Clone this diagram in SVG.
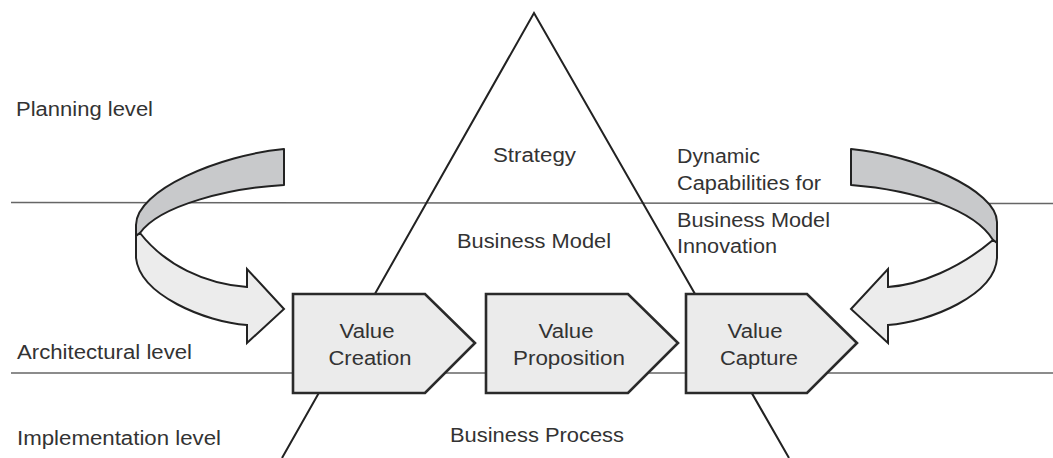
<svg xmlns="http://www.w3.org/2000/svg" width="1053" height="458" viewBox="0 0 1053 458">
<style>
  text { font-family: "Liberation Sans", Arial, Helvetica, sans-serif; font-size: 20px; fill: #333; }
  .lvl { stroke: #666; stroke-width: 1.5; fill: none; }
  .tri { stroke: #222; stroke-width: 2; fill: none; }
  .pent { fill: #ebebeb; stroke: #2a2a2a; stroke-width: 2.6; stroke-linejoin: miter; }
  .back { fill: #c8c9cb; stroke: #222; stroke-width: 2; stroke-linejoin: round; }
  .front { fill: #ececec; stroke: #222; stroke-width: 2; stroke-linejoin: miter; }
  .mid { text-anchor: middle; }
</style>
<rect width="1053" height="458" fill="#ffffff"/>

<g id="levels">
  <line class="lvl" x1="11" y1="202.5" x2="1053" y2="203.5"/>
  <line class="lvl" x1="11" y1="373" x2="1053" y2="373"/>
  <text x="16" y="116" textLength="137" lengthAdjust="spacingAndGlyphs">Planning level</text>
  <text x="17" y="359" textLength="175" lengthAdjust="spacingAndGlyphs">Architectural level</text>
  <text x="17" y="445" textLength="204" lengthAdjust="spacingAndGlyphs">Implementation level</text>
</g>

<g id="triangle">
  <polyline class="tri" points="282,458 534,13 789,458"/>
  <text x="493" y="162" textLength="83" lengthAdjust="spacingAndGlyphs">Strategy</text>
  <text x="457" y="248" textLength="154" lengthAdjust="spacingAndGlyphs">Business Model</text>
  <text x="450" y="442" textLength="174" lengthAdjust="spacingAndGlyphs">Business Process</text>
</g>

<g id="dynamic-capabilities">
  <text x="677" y="163" textLength="83" lengthAdjust="spacingAndGlyphs">Dynamic</text>
  <text x="677" y="190" textLength="144" lengthAdjust="spacingAndGlyphs">Capabilities for</text>
  <text x="677" y="227" textLength="153" lengthAdjust="spacingAndGlyphs">Business Model</text>
  <text x="677" y="253" textLength="100" lengthAdjust="spacingAndGlyphs">Innovation</text>
</g>

<g id="connectors">
  <g id="arrow-left">
    <path class="back" d="M284,149 C220,155 136,190 136,225 L136,236 L140,233 C160,205 230,188 284,185 Z"/>
    <path class="front" d="M140,233 L136,236 L136,258 C140,295 205,322 247,325 L247,343 L284,309 L247,269 L247,287 C205,284 165,265 140,233 Z"/>
  </g>
  <g id="arrow-right">
    <path class="back" d="M851,149 C915,155 997,190 997,222 L997,243 L993,240 C975,210 915,190 851,185 Z"/>
    <path class="front" d="M993,240 L997,243 L997,258 C995,295 930,322 888,325 L888,343 L851,309 L888,269 L888,287 C920,285 960,268 993,240 Z"/>
  </g>
</g>

<g id="value-creation">
  <polygon class="pent" points="293,294 425,294 475,343 425,393 293,393"/>
  <text class="mid" x="367" y="338" textLength="55" lengthAdjust="spacingAndGlyphs">Value</text>
  <text class="mid" x="370" y="365" textLength="83" lengthAdjust="spacingAndGlyphs">Creation</text>
</g>

<g id="value-proposition">
  <polygon class="pent" points="486,294 628,294 678,343 628,393 486,393"/>
  <text class="mid" x="566" y="338" textLength="55" lengthAdjust="spacingAndGlyphs">Value</text>
  <text class="mid" x="569" y="365" textLength="112" lengthAdjust="spacingAndGlyphs">Proposition</text>
</g>

<g id="value-capture">
  <polygon class="pent" points="686,294 807,294 857,343 807,393 686,393"/>
  <text class="mid" x="755" y="338" textLength="55" lengthAdjust="spacingAndGlyphs">Value</text>
  <text class="mid" x="759" y="365" textLength="78" lengthAdjust="spacingAndGlyphs">Capture</text>
</g>
</svg>
